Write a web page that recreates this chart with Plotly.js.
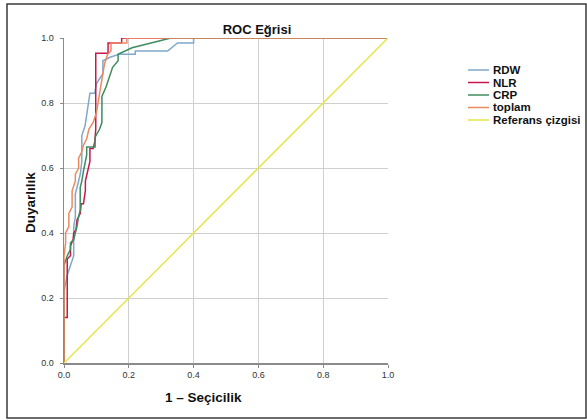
<!DOCTYPE html>
<html>
<head>
<meta charset="utf-8">
<script src="https://cdn.plot.ly/plotly-3.0.1.min.js"></script>
<style>html,body{margin:0;padding:0;background:#fff;}#chart{width:587px;height:420px;}</style>
</head>
<body>
<div id="chart"></div>
<script>
// ---- data ----
const seriesNames = ["RDW", "NLR", "CRP", "toplam", "Referans çizgisi"];
const seriesColors = ["#7fa8c9", "#c8174f", "#3f8c5f", "#ea8a60", "#e6e64a"];

const rdwX = [0, 0, 0.01, 0.02, 0.028, 0.03, 0.03, 0.035, 0.035, 0.045, 0.05, 0.055, 0.055, 0.065, 0.075, 0.08, 0.095, 0.10, 0.12, 0.12, 0.14, 0.17, 0.22, 0.22, 0.32, 0.35, 0.40, 0.40, 1];
const rdwY = [0, 0.22, 0.27, 0.30, 0.32, 0.33, 0.42, 0.45, 0.52, 0.56, 0.58, 0.62, 0.70, 0.73, 0.79, 0.83, 0.83, 0.86, 0.89, 0.93, 0.94, 0.95, 0.95, 0.96, 0.96, 0.985, 0.985, 1, 1];

const nlrX = [0, 0, 0.01, 0.01, 0.02, 0.02, 0.028, 0.03, 0.037, 0.04, 0.05, 0.053, 0.06, 0.066, 0.066, 0.07, 0.075, 0.08, 0.08, 0.09, 0.095, 0.098, 0.098, 0.136, 0.136, 0.178, 0.178, 1];
const nlrY = [0, 0.14, 0.14, 0.32, 0.33, 0.36, 0.38, 0.40, 0.41, 0.44, 0.46, 0.49, 0.49, 0.53, 0.56, 0.58, 0.60, 0.62, 0.66, 0.66, 0.68, 0.72, 0.953, 0.953, 0.985, 0.985, 1, 1];

const crpX = [0, 0, 0.01, 0.02, 0.02, 0.03, 0.035, 0.04, 0.045, 0.05, 0.05, 0.055, 0.06, 0.065, 0.07, 0.07, 0.096, 0.096, 0.11, 0.117, 0.117, 0.13, 0.14, 0.15, 0.167, 0.167, 0.21, 0.25, 0.33, 1];
const crpY = [0, 0.30, 0.33, 0.35, 0.37, 0.38, 0.40, 0.42, 0.45, 0.47, 0.54, 0.56, 0.59, 0.62, 0.64, 0.665, 0.665, 0.695, 0.72, 0.74, 0.82, 0.85, 0.88, 0.91, 0.93, 0.95, 0.97, 0.98, 1, 1];

const toplamX = [0, 0, 0.005, 0.005, 0.015, 0.015, 0.025, 0.025, 0.035, 0.035, 0.045, 0.045, 0.055, 0.06, 0.07, 0.077, 0.09, 0.10, 0.105, 0.11, 0.115, 0.12, 0.125, 0.135, 0.145, 0.145, 0.194, 0.194, 1];
const toplamY = [0, 0.33, 0.37, 0.40, 0.42, 0.46, 0.48, 0.53, 0.56, 0.58, 0.60, 0.63, 0.65, 0.67, 0.69, 0.72, 0.74, 0.77, 0.80, 0.83, 0.86, 0.88, 0.92, 0.95, 0.96, 0.985, 0.985, 1, 1];

const refX = [0, 1];
const refY = [0, 1];

const tickVals = [0, 0.2, 0.4, 0.6, 0.8, 1.0];
const tickLabels = ["0.0", "0.2", "0.4", "0.6", "0.8", "1.0"];

const seriesX = [rdwX, nlrX, crpX, toplamX, refX];
const seriesY = [rdwY, nlrY, crpY, toplamY, refY];

// ---- traces ----
const traces = seriesNames.map((n, i) => ({
  type: "scatter", mode: "lines", name: n,
  x: seriesX[i], y: seriesY[i],
  line: {color: seriesColors[i], width: 1.5},
  showlegend: false, hoverinfo: "skip"
}));

// ---- custom legend (compact, like the reference) ----
const legendRowsPx = [70, 82.5, 95, 107.5, 120];
const pxToPaperX = px => (px - 64) / 324;
const pxToPaperY = py => (363 - py) / 325;
const shapes = [];
const annotations = [];
seriesNames.forEach((n, i) => {
  const yy = pxToPaperY(legendRowsPx[i]);
  shapes.push({type: "line", xref: "paper", yref: "paper",
    x0: pxToPaperX(468), x1: pxToPaperX(489), y0: yy, y1: yy,
    line: {color: seriesColors[i], width: 1.5}});
  annotations.push({xref: "paper", yref: "paper", x: pxToPaperX(491), y: yy,
    xanchor: "left", yanchor: "middle", showarrow: false, text: n,
    font: {family: "Liberation Sans, Arial, sans-serif", size: 11.5, color: "#111", weight: "bold"}});
});

// outer frame
shapes.push({type: "rect", xref: "paper", yref: "paper",
  x0: pxToPaperX(7), x1: pxToPaperX(586), y0: pxToPaperY(418), y1: pxToPaperY(4),
  line: {color: "#3a3a3a", width: 1.5}, fillcolor: "rgba(0,0,0,0)", layer: "below"});

// axis titles
annotations.push({xref: "paper", yref: "paper", x: pxToPaperX(203), y: pxToPaperY(397),
  xanchor: "center", yanchor: "middle", showarrow: false, text: "<b>1 – Seçicilik</b>",
  font: {family: "Liberation Sans, Arial, sans-serif", size: 13.5, color: "#111"}});
annotations.push({xref: "paper", yref: "paper", x: pxToPaperX(30), y: pxToPaperY(203),
  xanchor: "center", yanchor: "middle", showarrow: false, textangle: -90, text: "<b>Duyarlılık</b>",
  font: {family: "Liberation Sans, Arial, sans-serif", size: 13.5, color: "#111"}});

const axisCommon = {
  range: [0, 1], tickvals: tickVals, ticktext: tickLabels,
  showgrid: true, gridcolor: "#cfcfcf", gridwidth: 1,
  showline: true, linecolor: "#8a8a8a", linewidth: 1.5,
  ticks: "outside", ticklen: 3, tickcolor: "#8a8a8a", tickwidth: 1,
  zeroline: false, fixedrange: true,
  tickfont: {family: "Liberation Sans, Arial, sans-serif", size: 9, color: "#333"}
};

const layout = {
  width: 587, height: 420,
  margin: {l: 64, r: 199, t: 38, b: 57, pad: 0},
  paper_bgcolor: "#fff", plot_bgcolor: "#fff",
  title: {text: "<b>ROC Eğrisi</b>", x: 257 / 587, xanchor: "center", xref: "container",
    y: 1 - 29 / 420, yanchor: "middle", yref: "container",
    font: {family: "Liberation Sans, Arial, sans-serif", size: 13, color: "#111"}},
  xaxis: Object.assign({}, axisCommon),
  yaxis: Object.assign({}, axisCommon, {ticklabelstandoff: 4}),
  showlegend: false,
  shapes: shapes,
  annotations: annotations
};

Plotly.newPlot("chart", traces, layout, {displayModeBar: false, staticPlot: true});
</script>
</body>
</html>
